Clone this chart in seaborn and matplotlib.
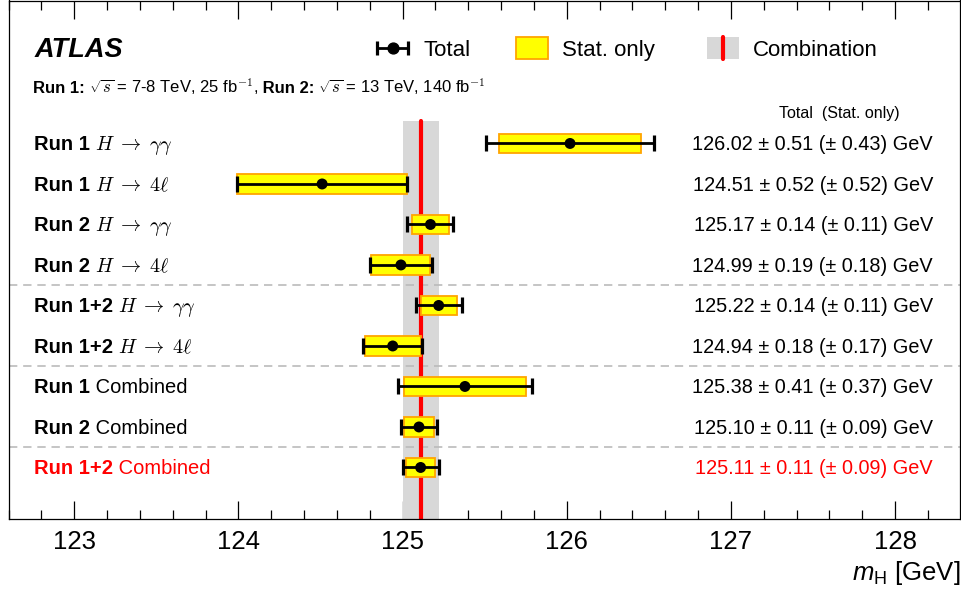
import numpy as np
import pandas as pd
import matplotlib
matplotlib.use("Agg")
import matplotlib.pyplot as plt
import seaborn as sns
from matplotlib.legend_handler import HandlerBase
from matplotlib.lines import Line2D
from matplotlib.patches import Patch, Rectangle
from matplotlib.ticker import MultipleLocator, FixedLocator

# ---------------- data ----------------
run_labels = ["Run 1", "Run 1", "Run 2", "Run 2", "Run 1+2", "Run 1+2",
              "Run 1", "Run 2", "Run 1+2"]
channel_labels = [r"$H\;\rightarrow\;\gamma\gamma$", r"$H\;\rightarrow\;4\ell$",
                  r"$H\;\rightarrow\;\gamma\gamma$", r"$H\;\rightarrow\;4\ell$",
                  r"$H\;\rightarrow\;\gamma\gamma$", r"$H\;\rightarrow\;4\ell$",
                  "Combined", "Combined", "Combined"]
mass = [126.02, 124.51, 125.17, 124.99, 125.22, 124.94, 125.38, 125.10, 125.11]
tot_err = [0.51, 0.52, 0.14, 0.19, 0.14, 0.18, 0.41, 0.11, 0.11]
stat_err = [0.43, 0.52, 0.11, 0.18, 0.11, 0.17, 0.37, 0.09, 0.09]
label_colors = ["black"] * 8 + ["red"]
comb_mass = 125.11
comb_err = 0.11
separators = [3.5, 5.5, 7.5]
xticks = [123, 124, 125, 126, 127, 128]
legend_labels = ["Total", "Stat. only", "Combination"]

df = pd.DataFrame({"row": np.arange(len(mass)), "mass": mass,
                   "tot": tot_err, "stat": stat_err})

# ---------------- style ----------------
sns.set_theme(style="ticks")
plt.rcParams["font.family"] = ["Liberation Sans", "DejaVu Sans"]
plt.rcParams["mathtext.fontset"] = "custom"
plt.rcParams["mathtext.rm"] = "Liberation Sans"
plt.rcParams["mathtext.it"] = "Liberation Sans:italic"
plt.rcParams["mathtext.bf"] = "Liberation Sans:bold"
for k in ["text.color", "axes.labelcolor", "xtick.color", "ytick.color",
          "xtick.labelcolor", "axes.edgecolor"]:
    plt.rcParams[k] = "black"

W, H = 961, 594
fig = plt.figure(figsize=(W / 100, H / 100), dpi=100)
ax = fig.add_axes([8.5 / W, (H - 518.5) / H, (960 - 8.5) / W, 518 / H])

# combination band + line
band_top = 1 - (121 - 0.5) / 518
ax.axvspan(comb_mass - comb_err, comb_mass + comb_err, ymin=0, ymax=band_top,
           color="#d8d8d8", lw=0, zorder=1)
ax.axvline(comb_mass, ymin=0, ymax=band_top, color="red", lw=3, zorder=2)

for s in separators:
    ax.axhline(s, color="#bbbbbb", lw=1.2, ls=(0, (5, 3.5)), zorder=1.5)

# stat boxes
ax.barh(df["row"], 2 * df["stat"], left=df["mass"] - df["stat"], height=0.49,
        color="#ffff00", edgecolor="#ffa500", lw=1.3, zorder=3)
# total error bars
ax.errorbar(df["mass"], df["row"], xerr=df["tot"], fmt="none", ecolor="black",
            elinewidth=2.0, capsize=6, capthick=2.3, zorder=4)
# central values
sns.scatterplot(data=df, x="mass", y="row", color="black", s=62,
                edgecolor="none", zorder=5, legend=False, ax=ax)

ax.set_xlim(122.6, 128.395)
ax.set_ylim(9.26, -3.53)
ax.xaxis.set_major_locator(FixedLocator(xticks))
ax.xaxis.set_minor_locator(MultipleLocator(0.2))
ax.set_yticks([])
ax.set_ylabel("")
ax.tick_params(axis="x", which="both", direction="in", top=True, bottom=True,
               labelsize=18.5, pad=8, color="black", labelcolor="black",
               width=0.9)
ax.tick_params(axis="x", which="major", length=13)
ax.tick_params(axis="x", which="minor", length=6.5)
ax.set_xticklabels([str(t) for t in xticks])
for sp in ax.spines.values():
    sp.set_color("black")
    sp.set_linewidth(0.9)
ax.set_xlabel(r"$m_{\mathrm{H}}$ [GeV]", fontsize=18.5, loc="right", labelpad=4,
              color="black")

renderer = fig.canvas.get_renderer()
ax_w = ax.get_window_extent(renderer).width
ytr = ax.get_yaxis_transform()


def draw_pieces(x0, y, parts, size, color="black"):
    x = x0
    for s, weight, mfam in parts:
        t = ax.text(x, y, s, transform=ytr, ha="left", va="baseline",
                    fontsize=size, fontweight=weight, color=color,
                    math_fontfamily=mfam)
        x += t.get_window_extent(renderer).width / ax_w


def fx(px):
    return (px - 8.5) / 951.5


def fy(px):
    return (px - 143) / 40.5


# ATLAS label
ax.text(fx(35), fy(57), "ATLAS", transform=ytr, fontsize=19.5, fontweight="bold",
        fontstyle="italic", ha="left", va="baseline")

# energy / luminosity line
draw_pieces(fx(33), fy(93), [
    ("Run 1:", "bold", "cm"),
    (r" $\sqrt{s}$ = 7-8 TeV, 25 fb$^{-1}$,", "normal", "cm"),
    (" Run 2:", "bold", "cm"),
    (r" $\sqrt{s}$ = 13 TeV, 140 fb$^{-1}$", "normal", "cm"),
], size=12)

# header
ax.text(fx(900), fy(118), "Total  (Stat. only)", transform=ytr, fontsize=11.5,
        ha="right", va="baseline")

# row labels and values
for i in range(len(mass)):
    yb = i + 0.17
    draw_pieces(fx(34), yb, [(run_labels[i], "bold", "cm"),
                             (" " + channel_labels[i], "normal", "cm")],
                size=14.5, color=label_colors[i])
    ax.text(fx(933), yb,
            f"{mass[i]:.2f} \u00b1 {tot_err[i]:.2f} (\u00b1 {stat_err[i]:.2f}) GeV",
            transform=ytr, ha="right", va="baseline", fontsize=14.3,
            color=label_colors[i])


# ---------------- legend ----------------
class HandlerTotal(HandlerBase):
    def create_artists(self, legend, orig_handle, xdescent, ydescent, width,
                       height, fontsize, trans):
        y = height / 2 - ydescent
        x0, x1 = -xdescent + 1.5, width - xdescent - 1.5
        line = Line2D([x0, x1], [y, y], color="black", lw=2.0, transform=trans)
        caps = Line2D([x0, x1], [y, y], ls="none", marker="|", ms=10,
                      mew=2.3, color="black", transform=trans)
        dot = Line2D([(x0 + x1) / 2], [y], ls="none", marker="o", ms=7.8,
                     color="black", transform=trans)
        return [line, caps, dot]


class HandlerComb(HandlerBase):
    def create_artists(self, legend, orig_handle, xdescent, ydescent, width,
                       height, fontsize, trans):
        rect = Rectangle((-xdescent, -ydescent), width, height,
                         facecolor="#d8d8d8", edgecolor="none", transform=trans)
        xm = width / 2 - xdescent
        line = Line2D([xm, xm], [-ydescent, height - ydescent], color="red",
                      lw=3, transform=trans)
        return [rect, line]


class TotalProxy:
    pass


class CombProxy:
    pass


handles = [TotalProxy(), Patch(facecolor="#ffff00", edgecolor="#ffa500", lw=1.3),
           CombProxy()]
hmap = {TotalProxy: HandlerTotal(), CombProxy: HandlerComb()}
leg_x = [375, 516, 707]
legs = []
for h, lab, xp in zip(handles, legend_labels, leg_x):
    lg = ax.legend([h], [lab], handler_map=hmap, loc="center left",
                   bbox_to_anchor=(fx(xp), 1 - 48.5 / 518), frameon=False,
                   fontsize=16, borderpad=0, borderaxespad=0,
                   handlelength=1.6 if lab == "Total" else 1.45,
                   handleheight=1.1, handletextpad=0.6, labelcolor="black")
    legs.append(lg)
for lg in legs[:-1]:
    ax.add_artist(lg)

fig.savefig("out.png", dpi=100)
